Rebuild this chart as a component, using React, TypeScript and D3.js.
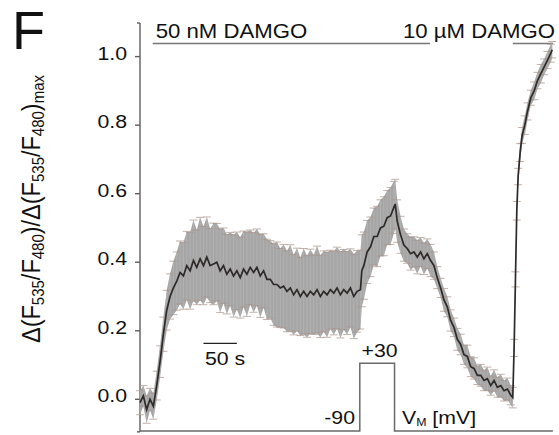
import React from 'react';
import * as d3 from 'd3';

// time (s) of each averaged sample
const timeS = [
  0, 5, 10, 15, 20, 25, 30, 35, 40, 45, 50, 55, 60, 65, 70, 75, 80, 85, 90, 95,
  100, 105, 110, 115, 120, 125, 130, 135, 140, 145, 150, 155, 160, 165, 170, 175, 180, 185, 190, 195,
  200, 205, 210, 215, 220, 225, 230, 235, 240, 245, 250, 255, 260, 265, 270, 275, 280, 285, 290, 295,
  300, 305, 310, 315, 320, 325, 330,
  332, 335, 340, 345, 350, 355, 360, 365, 370, 375, 380, 382,
  385, 390, 395, 400, 405, 410, 415, 420, 425, 430, 435, 440, 445, 450, 455, 460, 465, 470, 475, 480,
  485, 490, 495, 500, 505, 510, 515, 520, 525, 530, 535, 540, 545, 550, 555, 558,
  560, 562, 564, 566, 569, 572, 576, 580, 585, 590, 595, 600, 605, 610, 615, 617,
];

// normalized FRET ratio, mean
const meanRatio = [
  -0.01, 0.01, -0.03, 0.0, -0.02, 0.04, 0.11, 0.19, 0.26, 0.3, 0.325, 0.345, 0.37, 0.36, 0.39, 0.375, 0.405, 0.385, 0.41, 0.39,
  0.415, 0.39, 0.395, 0.4, 0.375, 0.39, 0.365, 0.38, 0.36, 0.375, 0.355, 0.38, 0.365, 0.385, 0.37, 0.385, 0.36, 0.375, 0.35, 0.35,
  0.335, 0.335, 0.325, 0.33, 0.315, 0.325, 0.305, 0.32, 0.3, 0.315, 0.3, 0.315, 0.305, 0.32, 0.3, 0.315, 0.305, 0.32, 0.31, 0.325,
  0.305, 0.32, 0.31, 0.325, 0.3, 0.315, 0.32,
  0.375, 0.39, 0.43, 0.445, 0.475, 0.475, 0.5, 0.505, 0.53, 0.535, 0.56, 0.57,
  0.52, 0.48, 0.45, 0.44, 0.425, 0.43, 0.415, 0.43, 0.41, 0.425, 0.405, 0.39, 0.355, 0.325, 0.29, 0.27, 0.23, 0.21, 0.175, 0.16,
  0.13, 0.125, 0.095, 0.09, 0.07, 0.07, 0.055, 0.06, 0.04, 0.055, 0.035, 0.04, 0.025, 0.03, 0.012, 0.005,
  0.15, 0.35, 0.55, 0.65, 0.72, 0.77, 0.8, 0.84, 0.88, 0.9, 0.93, 0.95, 0.97, 0.99, 1.01, 1.02,
];

// standard deviation of each sample
const sdRatio = [
  0.035, 0.03, 0.04, 0.032, 0.038, 0.042, 0.046, 0.05, 0.058, 0.066,
  0.078, 0.085, 0.092, 0.097, 0.1, 0.112, 0.118, 0.109, 0.121, 0.114,
  0.117, 0.108, 0.119, 0.113, 0.122, 0.11, 0.116, 0.107, 0.12, 0.113,
  0.118, 0.111, 0.123, 0.109, 0.116, 0.112, 0.121, 0.108, 0.117, 0.113,
  0.119, 0.124, 0.115, 0.122, 0.118, 0.126, 0.117, 0.121, 0.114, 0.125,
  0.119, 0.123, 0.116, 0.127, 0.12, 0.118, 0.124, 0.115, 0.122, 0.119,
  0.126, 0.117, 0.121, 0.114, 0.123, 0.119, 0.115,
  0.105, 0.098, 0.092, 0.087, 0.083, 0.088, 0.082, 0.086, 0.079, 0.083, 0.076, 0.072,
  0.062, 0.054, 0.047, 0.043, 0.048, 0.044, 0.049, 0.042, 0.046, 0.043, 0.047, 0.04,
  0.032, 0.028, 0.033, 0.029, 0.031, 0.027, 0.032, 0.03, 0.028, 0.033, 0.029, 0.031,
  0.027, 0.032, 0.03, 0.034, 0.028, 0.031, 0.029, 0.033, 0.03, 0.032, 0.028, 0.03,
  0.025, 0.022, 0.027, 0.024, 0.026, 0.023, 0.027, 0.025, 0.022, 0.026, 0.024, 0.027, 0.023, 0.025, 0.026, 0.024,
];

const yTicks = [0, 0.2, 0.4, 0.6, 0.8, 1.0];
const yTickLabels = ['0.0', '0.2', '0.4', '0.6', '0.8', '1.0'];
const yAxisExtent = [-0.095, 1.098];

// voltage protocol
const voltageTimes = [0, 329, 329, 381, 381, 618];
const voltageMV = [-90, -90, 30, 30, -90, -90];

// drug application bars
const drugLabels = ['50 nM DAMGO', '10 µM DAMGO'];
const drugStart = [19, 558];
const drugEnd = [434, 618];

// time scale bar
const scaleBarS = [95, 145];
const scaleBarLabel = '50 s';

const FONT = '"Liberation Sans", Arial, Helvetica, sans-serif';

export default function App() {
  const W = 559;
  const H = 435;
  const x = d3.scaleLinear().domain([0, 620]).range([140, 554.2]);
  const y = d3.scaleLinear().domain([0, 1]).range([399.3, 56.6]);
  const v = d3.scaleLinear().domain([-90, 30]).range([431, 363.3]);

  const pts = timeS.map((t, i) => ({ t, m: meanRatio[i], s: sdRatio[i] }));

  const band = d3
    .area<any>()
    .x((d) => x(d.t))
    .y0((d) => y(d.m - d.s))
    .y1((d) => y(d.m + d.s))
    .curve(d3.curveLinear)(pts);

  const meanLine = d3
    .line<any>()
    .x((d) => x(d.t))
    .y((d) => y(d.m))(pts);

  const vLine = d3
    .line<number>()
    .x((d, i) => x(voltageTimes[i]))
    .y((d) => v(d))(voltageMV);

  const axisColor = '#5e5e5e';
  const sx = 1.12;

  return (
    <svg
      width={W}
      height={H}
      style={{ position: 'absolute', left: 0, top: 0, background: '#fff' }}
      fontFamily={FONT}
    >
      <rect x={0} y={0} width={W} height={H} fill="#fff" />

      {/* panel letter */}
      <text x={12} y={49} fontSize={54} fill="#111">F</text>

      {/* y label */}
      <g transform={`translate(39.5,209) scale(1.11,1) rotate(-90)`}>
        <text textAnchor="middle" fontSize={23.5} fill="#111">
          <tspan>Δ(F</tspan>
          <tspan fontSize={15} dy={4}>535</tspan>
          <tspan dy={-4}>/F</tspan>
          <tspan fontSize={15} dy={4}>480</tspan>
          <tspan dy={-4}>)/Δ(F</tspan>
          <tspan fontSize={15} dy={4}>535</tspan>
          <tspan dy={-4}>/F</tspan>
          <tspan fontSize={15} dy={4}>480</tspan>
          <tspan dy={-4}>)</tspan>
          <tspan fontSize={15} dy={4}>max</tspan>
        </text>
      </g>

      {/* y axis */}
      <line
        x1={x(0)}
        x2={x(0)}
        y1={y(yAxisExtent[1])}
        y2={y(yAxisExtent[0])}
        stroke={axisColor}
        strokeWidth={1.4}
      />
      {yAxisExtent.map((e, i) => (
        <line key={'o' + i} x1={x(0) - 3} x2={x(0)} y1={y(e)} y2={y(e)} stroke={axisColor} strokeWidth={1.4} />
      ))}
      {yTicks.map((tk, i) => (
        <g key={'t' + i}>
          <line x1={x(0) - 5} x2={x(0)} y1={y(tk)} y2={y(tk)} stroke={axisColor} strokeWidth={1.4} />
          <g transform={`translate(127,${y(tk) + 3}) scale(${sx},1)`}>
            <text textAnchor="end" fontSize={19} fill="#111">{yTickLabels[i]}</text>
          </g>
        </g>
      ))}

      {/* drug bars */}
      {drugLabels.map((lab, i) => (
        <g key={'d' + i}>
          <line x1={x(drugStart[i])} x2={x(drugEnd[i])} y1={43.5} y2={43.5} stroke="#777" strokeWidth={1.4} />
          {i === 0 ? (
            <g transform={`translate(${x(drugStart[i]) + 3},38) scale(1.11,1)`}>
              <text fontSize={20} fill="#111">{lab}</text>
            </g>
          ) : (
            <g transform={`translate(555,38) scale(1.11,1)`}>
              <text fontSize={20} fill="#111" textAnchor="end">{lab}</text>
            </g>
          )}
        </g>
      ))}

      {/* SD band */}
      <path d={band || ''} fill="#a6a6a6" stroke="none" />
      {pts.map((d, i) => (
        <g key={'e' + i}>
          <line x1={x(d.t)} x2={x(d.t)} y1={y(d.m - d.s)} y2={y(d.m + d.s)} stroke="#c4c4c4" strokeOpacity={0.5} strokeWidth={0.8} />
          <line x1={x(d.t) - 4} x2={x(d.t) + 4} y1={y(d.m + d.s)} y2={y(d.m + d.s)} stroke="#a9928a" strokeOpacity={0.8} strokeWidth={0.9} />
          <line x1={x(d.t) - 4} x2={x(d.t) + 4} y1={y(d.m - d.s)} y2={y(d.m - d.s)} stroke="#a9928a" strokeOpacity={0.8} strokeWidth={0.9} />
        </g>
      ))}
      <path d={meanLine || ''} fill="none" stroke="#2f2a2a" strokeWidth={1.7} />

      {/* scale bar */}
      <line x1={x(scaleBarS[0])} x2={x(scaleBarS[1])} y1={343.3} y2={343.3} stroke="#222" strokeWidth={1.2} />
      <g transform={`translate(205,365) scale(${sx},1)`}>
        <text fontSize={19} fill="#111">{scaleBarLabel}</text>
      </g>

      {/* voltage protocol */}
      <path d={vLine || ''} fill="none" stroke="#6a6a6a" strokeWidth={1.5} />
      <g transform={`translate(355,424.3) scale(${sx},1)`}>
        <text fontSize={19} fill="#111" textAnchor="end">-90</text>
      </g>
      <g transform={`translate(379.5,356.7) scale(${sx},1)`}>
        <text fontSize={19} fill="#111" textAnchor="middle">+30</text>
      </g>
      <g transform={`translate(402,424.3) scale(${sx},1)`}>
        <text fontSize={19} fill="#111">
          <tspan>V</tspan>
          <tspan fontSize={11} dy={2}>M</tspan>
          <tspan dy={-2}> [mV]</tspan>
        </text>
      </g>
    </svg>
  );
}
